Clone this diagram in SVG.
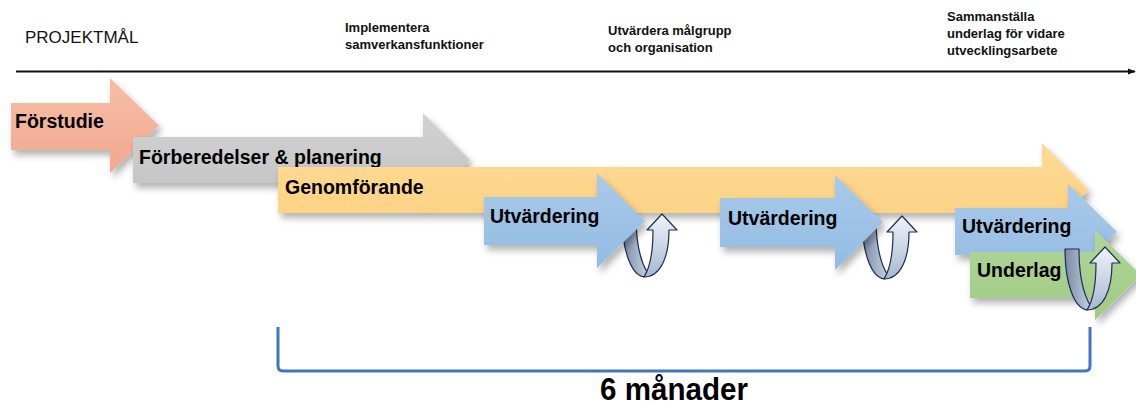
<svg xmlns="http://www.w3.org/2000/svg" width="1136" height="406" viewBox="0 0 1136 406">
  <defs>
    <style>
      .lbl { font-family: "Liberation Sans", Arial, sans-serif; font-weight: bold; font-size: 19.5px; fill: #000; }
      .top { font-family: "Liberation Sans", Arial, sans-serif; font-weight: bold; font-size: 13px; fill: #111; }
      .title { font-family: "Liberation Sans", Arial, sans-serif; font-size: 17px; fill: #111; }
      .arrow { filter: url(#shadow); }
      .curve { stroke: #1F2D4E; stroke-width: 1.2; stroke-linejoin: round; }
    </style>
    <filter id="shadow" x="-10%" y="-20%" width="130%" height="160%">
      <feDropShadow dx="3" dy="5" stdDeviation="3.5" flood-color="#000" flood-opacity="0.3"/>
    </filter>
    <linearGradient id="gSalmon" x1="0" y1="0" x2="0" y2="1">
      <stop offset="0" stop-color="#F7BEA8"/><stop offset="1" stop-color="#F1A88E"/>
    </linearGradient>
    <linearGradient id="gGray" x1="0" y1="0" x2="0" y2="1">
      <stop offset="0" stop-color="#D2D2D2"/><stop offset="1" stop-color="#C2C2C2"/>
    </linearGradient>
    <linearGradient id="gYellow" x1="0" y1="0" x2="0" y2="1">
      <stop offset="0" stop-color="#FEDB96"/><stop offset="1" stop-color="#FCD080"/>
    </linearGradient>
    <linearGradient id="gBlue" x1="0" y1="0" x2="0" y2="1">
      <stop offset="0" stop-color="#A9CAEA"/><stop offset="1" stop-color="#93BBE2"/>
    </linearGradient>
    <linearGradient id="gGreen" x1="0" y1="0" x2="0" y2="1">
      <stop offset="0" stop-color="#B0D699"/><stop offset="1" stop-color="#9FCA84"/>
    </linearGradient>
    <linearGradient id="gBack" x1="0" y1="0" x2="1" y2="0">
      <stop offset="0" stop-color="#7A8AA6"/><stop offset="1" stop-color="#C3CEDF"/>
    </linearGradient>
    <linearGradient id="gFront" x1="0" y1="0" x2="0" y2="1">
      <stop offset="0" stop-color="#F0F4FA"/><stop offset="1" stop-color="#A7B7D2"/>
    </linearGradient>
    <marker id="tl" viewBox="0 0 10 10" refX="9" refY="5" markerWidth="4" markerHeight="4" orient="auto" markerUnits="strokeWidth">
      <path d="M0,1 L10,5 L0,9 Z" fill="#111"/>
    </marker>
    <g id="uturn">
      <path class="curve" fill="url(#gBack)" d="M622,216 L636,216 C636,240 640,260 647,272 L644,277 C631,275 622,250 622,216 Z"/>
      <path class="curve" fill="url(#gFront)" d="M644,277 C651,266 653,248 653,230 L647,230 L662,214 L677,230 L669,230 C669,258 660,277 644,277 Z"/>
    </g>
  </defs>

  <rect width="1136" height="406" fill="#fff"/>

  <g id="title">
    <text class="title" x="25" y="43">PROJEKTMÅL</text>
  </g>
  <g id="goal1">
    <text class="top" x="345" y="32">Implementera</text>
    <text class="top" x="345" y="49">samverkansfunktioner</text>
  </g>
  <g id="goal2">
    <text class="top" x="608" y="35">Utvärdera målgrupp</text>
    <text class="top" x="608" y="52">och organisation</text>
  </g>
  <g id="goal3">
    <text class="top" x="947" y="21">Sammanställa</text>
    <text class="top" x="947" y="38">underlag för vidare</text>
    <text class="top" x="947" y="55">utvecklingsarbete</text>
  </g>

  <g id="connectors">
    <line x1="16" y1="71.5" x2="1135" y2="71.5" stroke="#111" stroke-width="2" marker-end="url(#tl)"/>
    <path d="M278,327 L278,366 Q278,371 283,371 L1085,371 Q1090,371 1090,366 L1090,327" fill="none" stroke="#4472C4" stroke-width="3"/>
  </g>

  <g id="forstudie">
    <polygon class="arrow" fill="url(#gSalmon)" points="11,103 110,103 110,78 159,125.5 110,173 110,150 11,150"/>
    <text class="lbl" x="15" y="128">Förstudie</text>
  </g>
  <g id="forberedelser">
    <polygon class="arrow" fill="url(#gGray)" points="133,137 423,137 423,113 470,160 423,207 423,183 133,183"/>
    <text class="lbl" x="139" y="164">Förberedelser &amp; planering</text>
  </g>
  <g id="genomforande">
    <polygon class="arrow" fill="url(#gYellow)" points="278,167 1042,167 1042,143 1089,190 1042,237 1042,213 278,213"/>
    <text class="lbl" x="285" y="194">Genomförande</text>
  </g>
  <g id="loop1">
    <use href="#uturn"/>
  </g>
  <g id="utvardering1">
    <polygon class="arrow" fill="url(#gBlue)" points="484,197 597,197 597,173 645,221 597,268 597,245 484,245"/>
    <text class="lbl" x="490" y="223">Utvärdering</text>
  </g>
  <g id="loop2">
    <use href="#uturn" transform="translate(240,2)"/>
  </g>
  <g id="utvardering2">
    <polygon class="arrow" fill="url(#gBlue)" points="720,198 835,198 835,175 883,222 835,270 835,247 720,247"/>
    <text class="lbl" x="728" y="225">Utvärdering</text>
  </g>
  <g id="utvardering3">
    <polygon class="arrow" fill="url(#gBlue)" points="955,208 1068,208 1068,184 1117,232 1068,280 1068,255 955,255"/>
    <text class="lbl" x="962" y="233">Utvärdering</text>
  </g>
  <g id="underlag">
    <polygon class="arrow" fill="url(#gGreen)" points="970,252 1095,252 1095,230 1141,275 1095,320 1095,298 970,298"/>
    <text class="lbl" x="977" y="277">Underlag</text>
  </g>
  <g id="loop3">
    <use href="#uturn" transform="translate(443,33)"/>
  </g>

  <g id="duration">
    <text x="600" y="400" textLength="148" lengthAdjust="spacingAndGlyphs" font-family="'Liberation Sans', Arial, sans-serif" font-weight="bold" font-size="31" fill="#000">6 månader</text>
  </g>
</svg>
